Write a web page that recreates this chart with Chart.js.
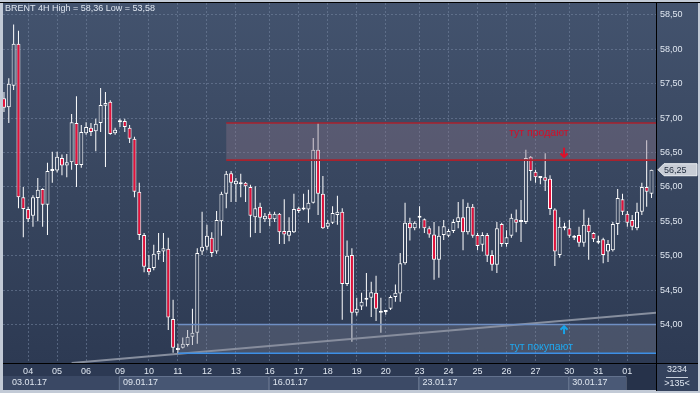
<!DOCTYPE html>
<html>
<head>
<meta charset="utf-8">
<script src="https://cdn.jsdelivr.net/npm/chart.js@4.4.0/dist/chart.umd.min.js"></script>
<style>
  html, body { margin: 0; padding: 0; background: #c4ccd8; }
  canvas { display: block; }
</style>
</head>
<body>
<canvas id="chart" width="700" height="393"></canvas>
<script>
// BRENT 4H, 03.01.17 - 01.02.17, one value per candle
const opens = [
  57.29, 57.16, 57.47, 58.08, 55.85, 55.68, 55.58, 55.84, 55.97, 55.74,
  56.23, 56.24, 56.42, 56.31, 56.36, 56.93, 56.32, 56.78, 56.86, 56.81,
  56.93, 57.18, 57.24, 56.78, 56.94, 56.96, 56.86, 56.70, 55.93, 55.30,
  54.82, 54.82, 55.03, 55.06, 55.10, 54.08, 53.65, 53.66, 53.70, 53.82,
  53.88, 55.06, 55.13, 55.26, 55.06, 55.50, 55.90, 56.20, 56.04, 56.06,
  56.06, 56.00, 55.56, 55.71, 55.53, 55.61, 55.53, 55.61, 55.36, 55.29,
  55.34, 55.69, 55.68, 55.67, 55.77, 56.54, 55.90, 55.42, 55.48, 55.59,
  55.64, 54.59, 55.01, 54.17, 54.26, 54.36, 54.39, 54.46, 54.20, 54.19,
  54.23, 54.40, 54.45, 54.89, 55.48, 55.40, 55.56, 55.53, 55.40, 55.31,
  54.94, 55.30, 55.29, 55.36, 55.49, 55.56, 55.34, 55.71, 55.30, 55.16,
  55.30, 55.01, 54.87, 55.46, 55.17, 55.29, 55.53, 55.50, 55.49, 56.44,
  56.22, 56.14, 56.14, 56.12, 55.67, 55.01, 55.40, 55.40, 55.27, 55.30,
  55.19, 55.45, 55.33, 55.21, 55.24, 55.06, 55.08, 55.46, 55.82, 55.61,
  55.52, 55.40, 55.64, 56.00, 55.90
];
const highs = [
  57.38, 57.58, 58.36, 58.27, 56.00, 55.71, 55.88, 56.13, 55.98, 56.35,
  56.51, 56.51, 56.47, 56.48, 57.06, 57.32, 56.90, 56.94, 56.93, 56.99,
  57.44, 57.38, 57.26, 56.86, 56.99, 56.99, 56.90, 56.73, 56.06, 55.33,
  55.01, 55.16, 55.33, 55.33, 55.26, 54.36, 53.72, 53.81, 53.92, 54.23,
  55.11, 55.64, 55.45, 55.34, 55.65, 55.93, 56.23, 56.23, 56.13, 56.19,
  56.07, 56.03, 56.01, 55.77, 55.62, 55.64, 55.64, 55.62, 55.82, 55.56,
  55.90, 55.71, 55.90, 55.96, 56.71, 56.93, 56.16, 55.52, 55.72, 55.87,
  55.69, 55.22, 55.11, 54.39, 54.46, 54.75, 54.62, 54.71, 54.39, 54.21,
  54.42, 54.58, 55.04, 55.77, 55.55, 55.50, 55.72, 55.54, 55.43, 55.49,
  55.43, 55.52, 55.39, 55.53, 55.78, 55.82, 55.77, 55.75, 55.33, 55.34,
  55.33, 55.08, 55.49, 55.48, 55.37, 55.61, 55.67, 55.81, 56.54, 56.45,
  56.25, 56.16, 56.49, 56.17, 55.69, 55.56, 55.48, 55.52, 55.30, 55.42,
  55.67, 55.55, 55.34, 55.29, 55.26, 55.23, 55.49, 55.97, 55.90, 55.65,
  55.59, 55.77, 56.06, 56.68, 56.25
];
const lows = [
  57.09, 56.93, 57.41, 55.69, 55.27, 55.49, 55.42, 55.50, 55.42, 55.30,
  56.06, 56.21, 56.17, 56.14, 56.25, 56.00, 56.28, 56.76, 56.74, 56.52,
  56.80, 56.29, 56.76, 56.76, 56.87, 56.80, 56.64, 55.85, 55.23, 54.76,
  54.72, 54.79, 54.94, 54.91, 53.92, 53.59, 53.58, 53.65, 53.68, 53.70,
  53.72, 55.01, 55.08, 54.98, 55.03, 55.29, 55.69, 55.78, 55.78, 55.85,
  55.78, 55.27, 55.33, 55.33, 55.49, 55.43, 55.49, 55.17, 55.17, 55.21,
  55.33, 55.62, 55.66, 55.48, 55.76, 55.59, 55.39, 55.39, 55.46, 55.45,
  54.07, 54.56, 53.75, 54.13, 54.21, 54.26, 54.11, 54.05, 53.88, 54.14,
  54.21, 54.33, 54.33, 54.87, 55.22, 55.37, 55.40, 55.33, 55.26, 54.65,
  54.68, 55.23, 55.27, 55.33, 55.40, 55.08, 55.31, 55.26, 55.08, 55.06,
  54.91, 54.78, 54.75, 55.13, 55.13, 55.26, 55.34, 55.20, 55.46, 56.09,
  56.06, 56.04, 55.94, 55.59, 54.85, 54.97, 55.37, 55.26, 55.23, 55.13,
  55.13, 54.94, 55.20, 55.17, 54.89, 54.91, 55.06, 55.30, 55.59, 55.42,
  55.37, 55.37, 55.59, 55.71, 55.84
];
const closes = [
  57.15, 57.50, 58.08, 55.85, 55.68, 55.53, 55.85, 55.96, 55.74, 56.23,
  56.24, 56.44, 56.31, 56.36, 56.94, 56.32, 56.80, 56.87, 56.80, 56.92,
  57.19, 57.22, 56.77, 56.83, 56.96, 56.87, 56.70, 55.93, 55.30, 54.84,
  54.76, 55.03, 55.07, 55.11, 54.10, 53.66, 53.63, 53.72, 53.82, 53.88,
  55.04, 55.13, 55.29, 55.04, 55.52, 55.90, 56.19, 56.06, 56.09, 56.04,
  56.01, 55.58, 55.69, 55.55, 55.58, 55.53, 55.61, 55.34, 55.31, 55.36,
  55.68, 55.65, 55.67, 55.77, 56.54, 55.90, 55.40, 55.48, 55.62, 55.64,
  54.59, 55.00, 54.17, 54.23, 54.33, 54.39, 54.47, 54.23, 54.17, 54.18,
  54.40, 54.46, 54.89, 55.48, 55.40, 55.48, 55.55, 55.40, 55.31, 54.94,
  55.29, 55.43, 55.36, 55.49, 55.56, 55.34, 55.71, 55.29, 55.14, 55.30,
  55.00, 54.87, 55.40, 55.17, 55.27, 55.55, 55.48, 55.49, 56.42, 56.23,
  56.14, 56.13, 56.09, 55.68, 55.06, 55.42, 55.43, 55.29, 55.26, 55.19,
  55.45, 55.34, 55.24, 55.19, 55.01, 55.17, 55.46, 55.84, 55.64, 55.48,
  55.42, 55.64, 56.00, 55.93, 56.25
];

// x axis: first candle of each day, and week blocks
const dayStarts = [6, 12, 18, 25, 31, 37, 43, 49, 56, 62, 68, 74, 80, 87, 93, 99, 105, 111, 118, 124, 130];
const dayLabels = ['04', '05', '06', '09', '10', '11', '12', '13', '16', '17', '18', '19', '20', '23', '24', '25', '26', '27', '30', '31', '01'];
const weekStarts = [1, 25, 56, 87, 118, 130];
const weekLabels = ['03.01.17', '09.01.17', '16.01.17', '23.01.17', '30.01.17', ''];

// y axis
const yTicks = [54, 54.5, 55, 55.5, 56, 56.5, 57, 57.5, 58, 58.5];
const yRange = [53.44, 58.674];
const xRange = [0.8, 135.93];

// drawn levels: [first candle, low price, high price]
const sellZone = [47, 56.39, 56.93];
const buyZone = [37, 53.58, 54.00];
const trendLine = [[15, 53.44], [136, 54.17]];
const sellNote = [111.7, 56.785, 'тут продают'];
const buyNote = [112.2, 53.674, 'тут покупают'];
const sellArrow = [116.9, 56.57, 56.42];
const buyArrow = [116.9, 53.86, 53.99];
const barCount = '3234';

const FONT = '"Liberation Sans", Arial, sans-serif';
const TEXT = '#dfe6f0';

const fmt = v => v.toFixed(2).replace('.', ',');

function plotFill(chart) {
  const a = chart.chartArea;
  if (!a) return '#3a4862';
  if (!chart.$plotGrad || chart.$plotGradTop !== a.top) {
    const g = chart.ctx.createLinearGradient(0, a.top, 0, a.bottom);
    g.addColorStop(0, '#43536e');
    g.addColorStop(0.5, '#38465f');
    g.addColorStop(1, '#2d3a53');
    chart.$plotGrad = g;
    chart.$plotGradTop = a.top;
  }
  return chart.$plotGrad;
}

function drawArrow(ctx, x, yTail, yTip, color) {
  const dir = yTip > yTail ? 1 : -1;
  ctx.strokeStyle = color;
  ctx.lineWidth = 2;
  ctx.lineJoin = 'miter';
  ctx.beginPath();
  ctx.moveTo(x, yTail);
  ctx.lineTo(x, yTip - dir * 1);
  ctx.stroke();
  ctx.beginPath();
  ctx.moveTo(x - 3.5, yTip - dir * 4.5);
  ctx.lineTo(x, yTip - dir * 1);
  ctx.lineTo(x + 3.5, yTip - dir * 4.5);
  ctx.stroke();
}

const terminalPlugin = {
  id: 'terminal',
  beforeDraw(chart) {
    const { ctx, chartArea: a, width, height } = chart;
    const xs = chart.scales.x;
    ctx.save();
    ctx.fillStyle = '#c2cad6';
    ctx.fillRect(0, 0, width, height);
    ctx.fillStyle = plotFill(chart);
    ctx.fillRect(a.left, a.top, width - 2 - a.left, a.bottom - a.top);
    // day row
    ctx.fillStyle = '#2c3953';
    ctx.fillRect(a.left, a.bottom, a.right - a.left, 14);
    // week row
    const rowTop = a.bottom + 13, rowH = height - 3 - rowTop;
    const weekFill = ['#3a4864', '#475673', '#3c4a66', '#455471', '#4a5976', '#26324a'];
    weekStarts.forEach((s, i) => {
      const x0 = i === 0 ? a.left : xs.getPixelForValue(s) - 1;
      const x1 = i + 1 < weekStarts.length ? xs.getPixelForValue(weekStarts[i + 1]) - 1 : a.right;
      ctx.fillStyle = weekFill[i];
      if (weekLabels[i]) {
        ctx.fillRect(x0, rowTop, x1 - x0, rowH);
      } else {
        // the running day has its own dark block over both rows
        ctx.fillRect(x0, a.bottom + 2, x1 - x0, height - 3 - a.bottom - 2);
      }
      if (i > 0 && weekLabels[i]) {
        ctx.strokeStyle = '#62718d';
        ctx.lineWidth = 1;
        ctx.beginPath();
        ctx.moveTo(x0 + 0.5, rowTop + rowH);
        ctx.lineTo(x0 + 0.5, rowTop + 0.5);
        ctx.lineTo(x1, rowTop + 0.5);
        ctx.stroke();
      }
    });
    // corner box
    ctx.fillStyle = '#34425d';
    ctx.fillRect(a.right, a.bottom, width - 2 - a.right, height - 2 - a.bottom);
    ctx.restore();
  },
  afterDatasetsDraw(chart) {
    const { ctx, chartArea: a } = chart;
    const xs = chart.scales.x, ys = chart.scales.y;
    const px = v => xs.getPixelForValue(v), py = v => ys.getPixelForValue(v);
    ctx.save();
    ctx.beginPath();
    ctx.rect(a.left, a.top, a.right - a.left, a.bottom - a.top);
    ctx.clip();

    // trend line
    ctx.strokeStyle = 'rgba(150,158,172,0.85)';
    ctx.lineWidth = 2;
    ctx.beginPath();
    ctx.moveTo(px(trendLine[0][0]), py(trendLine[0][1]));
    ctx.lineTo(px(trendLine[1][0]), py(trendLine[1][1]));
    ctx.stroke();

    // sell zone
    let x0 = px(sellZone[0]), yLo = py(sellZone[1]), yHi = py(sellZone[2]);
    ctx.fillStyle = 'rgba(140,118,138,0.36)';
    ctx.fillRect(x0, yHi, a.right - x0, yLo - yHi);
    ctx.strokeStyle = '#a8222e';
    ctx.lineWidth = 1.6;
    ctx.beginPath();
    ctx.moveTo(x0, yHi); ctx.lineTo(a.right, yHi);
    ctx.moveTo(x0, yLo); ctx.lineTo(a.right, yLo);
    ctx.stroke();

    // buy zone
    x0 = px(buyZone[0]); yLo = py(buyZone[1]); yHi = py(buyZone[2]);
    ctx.fillStyle = 'rgba(135,140,155,0.3)';
    ctx.fillRect(x0, yHi, a.right - x0, yLo - yHi);
    ctx.lineWidth = 1.5;
    ctx.strokeStyle = '#6f8fc4';
    ctx.beginPath(); ctx.moveTo(x0, yHi); ctx.lineTo(a.right, yHi); ctx.stroke();
    ctx.strokeStyle = '#3d8fe6';
    ctx.beginPath(); ctx.moveTo(x0, yLo); ctx.lineTo(a.right, yLo); ctx.stroke();

    // notes
    ctx.font = '10.5px ' + FONT;
    ctx.textAlign = 'center';
    ctx.textBaseline = 'middle';
    ctx.fillStyle = '#d0102a';
    ctx.fillText(sellNote[2], px(sellNote[0]), py(sellNote[1]));
    ctx.fillStyle = '#1ea8f0';
    ctx.fillText(buyNote[2], px(buyNote[0]), py(buyNote[1]));
    drawArrow(ctx, px(sellArrow[0]), py(sellArrow[1]), py(sellArrow[2]), '#e0102a');
    drawArrow(ctx, px(buyArrow[0]), py(buyArrow[1]), py(buyArrow[2]), '#19a3e8');
    ctx.restore();
  },
  afterDraw(chart) {
    const { ctx, chartArea: a, width, height } = chart;
    const xs = chart.scales.x, ys = chart.scales.y;
    ctx.save();
    // frame lines
    ctx.strokeStyle = '#000000';
    ctx.lineWidth = 1;
    ctx.beginPath();
    ctx.moveTo(0, a.top - 0.5); ctx.lineTo(width, a.top - 0.5);
    ctx.moveTo(a.left, a.bottom + 0.5); ctx.lineTo(width - 2, a.bottom + 0.5);
    ctx.moveTo(a.right + 0.5, a.top); ctx.lineTo(a.right + 0.5, height - 2);
    ctx.stroke();

    ctx.font = '9px ' + FONT;
    ctx.fillStyle = TEXT;
    ctx.textBaseline = 'middle';

    // title
    const hi = Math.max(...highs), lo = Math.min(...lows);
    ctx.textAlign = 'left';
    ctx.fillText('BRENT 4H High = ' + fmt(hi) + ' Low = ' + fmt(lo), 5, 9);

    // week labels
    const rowMid = a.bottom + 20;
    weekStarts.forEach((s, i) => {
      if (!weekLabels[i]) return;
      const x = i === 0 ? 12 : xs.getPixelForValue(s) + 3;
      ctx.fillText(weekLabels[i], x, rowMid);
    });

    // corner counters
    const cx = (a.right + width - 2) / 2;
    ctx.textAlign = 'center';
    ctx.fillText(barCount, cx, a.bottom + 7);
    ctx.fillText('>' + opens.length + '<', cx, a.bottom + 21);
    ctx.strokeStyle = '#c8d0dc';
    ctx.beginPath();
    ctx.moveTo(cx - 11, a.bottom + 14.5); ctx.lineTo(cx + 11, a.bottom + 14.5);
    ctx.stroke();

    // last price tag
    const last = closes[closes.length - 1];
    const ty = ys.getPixelForValue(last);
    const tx = a.right + 2;
    ctx.fillStyle = '#c8cdd6';
    ctx.strokeStyle = '#eef1f5';
    ctx.beginPath();
    ctx.moveTo(tx, ty);
    ctx.lineTo(tx + 6, ty - 6);
    ctx.lineTo(width - 3, ty - 6);
    ctx.lineTo(width - 3, ty + 6);
    ctx.lineTo(tx + 6, ty + 6);
    ctx.closePath();
    ctx.fill();
    ctx.stroke();
    ctx.fillStyle = '#1e2a3c';
    ctx.textAlign = 'left';
    ctx.fillText(fmt(last), tx + 6, ty + 0.5);
    ctx.restore();
  }
};

const candleIdx = opens.map((_, i) => i + 1);
const wickData = candleIdx.map((x, i) => ({ x, y: [lows[i], highs[i]] }));
const bodyData = candleIdx.map((x, i) => ({ x, y: [opens[i], closes[i]] }));

const gridColor = 'rgba(118,134,162,0.55)';

new Chart(document.getElementById('chart').getContext('2d'), {
  type: 'bar',
  data: {
    datasets: [
      {
        label: 'body',
        data: bodyData,
        order: 1,
        grouped: false,
        barThickness: 4,
        borderWidth: 1,
        borderColor: '#ffffff',
        borderSkipped: false,
        inflateAmount: 0,
        minBarLength: 2,
        backgroundColor: ctx => closes[ctx.dataIndex] < opens[ctx.dataIndex] ? '#e3103a' : plotFill(ctx.chart)
      },
      {
        label: 'wick',
        data: wickData,
        order: 2,
        grouped: false,
        barThickness: 1,
        borderWidth: 0,
        inflateAmount: 0,
        backgroundColor: '#ffffff'
      }
    ]
  },
  options: {
    responsive: false,
    animation: false,
    events: [],
    layout: { padding: { left: 3, top: 3, right: 2, bottom: 2 } },
    plugins: { legend: { display: false }, tooltip: { enabled: false } },
    scales: {
      x: {
        type: 'linear',
        min: xRange[0],
        max: xRange[1],
        offset: false,
        afterBuildTicks: s => { s.ticks = dayStarts.map(v => ({ value: v })); },
        afterFit: s => { s.height = 28; s.paddingLeft = 0; s.paddingRight = 0; },
        ticks: {
          autoSkip: false,
          maxRotation: 0,
          minRotation: 0,
          padding: 3,
          color: TEXT,
          font: { family: FONT, size: 9 },
          callback: (v, i) => dayLabels[i]
        },
        grid: { offset: false, color: gridColor, lineWidth: 1, drawTicks: false },
        border: { display: false, dash: [2, 2] }
      },
      y: {
        type: 'linear',
        position: 'right',
        min: yRange[0],
        max: yRange[1],
        afterBuildTicks: s => { s.ticks = yTicks.map(v => ({ value: v })); },
        afterFit: s => { s.width = 42; s.paddingTop = 0; s.paddingBottom = 0; },
        ticks: {
          padding: 4,
          color: TEXT,
          font: { family: FONT, size: 9 },
          callback: v => fmt(v)
        },
        grid: { color: gridColor, lineWidth: 1, drawTicks: false },
        border: { display: false, dash: [2, 2] }
      }
    }
  },
  plugins: [terminalPlugin]
});
</script>
</body>
</html>
